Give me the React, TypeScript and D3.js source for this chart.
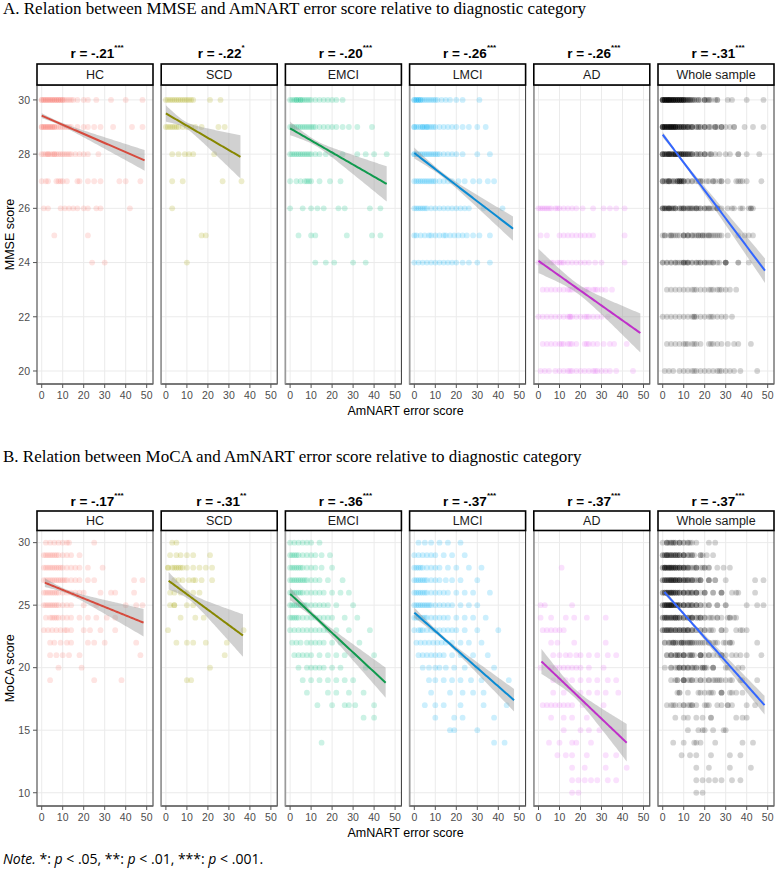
import React from 'react';
import * as d3 from 'd3';

// ---------- categories & labels ----------
const groups = ['HC', 'SCD', 'EMCI', 'LMCI', 'AD', 'Whole sample'];
const pointColors = ['#F8766D', '#A3A500', '#00BF7D', '#00B0F6', '#E76BF3', '#000000'];
const lineColors = ['#D64B3E', '#878700', '#109A4E', '#0B8BD3', '#BF30C9', '#3366FF'];

const mmseR = ['-.21', '-.22', '-.20', '-.26', '-.26', '-.31'];
const mmseStars = ['***', '*', '***', '***', '***', '***'];
const mocaR = ['-.17', '-.31', '-.36', '-.37', '-.37', '-.37'];
const mocaStars = ['***', '**', '***', '***', '***', '***'];

const xTicks = [0, 10, 20, 30, 40, 50];
const mmseTicks = [20, 22, 24, 26, 28, 30];
const mocaTicks = [10, 15, 20, 25, 30];

type Rows = [number, number[]][];

// ---------- MMSE points: [score, AmNART error values] ----------
const mmseHC: Rows = [
  [30, [0, 0, 1, 1, 2, 2, 3, 3, 4, 4, 5, 5, 6, 6, 7, 7, 8, 8, 9, 9, 10, 10, 11, 12, 13, 14, 15, 17, 20, 22, 26, 33, 40, 48]],
  [29, [0, 0, 1, 1, 2, 2, 3, 3, 4, 4, 5, 5, 6, 6, 7, 8, 9, 10, 11, 12, 13, 14, 17, 20, 22, 25, 28, 34, 43, 48]],
  [28, [0, 1, 2, 3, 3, 4, 5, 6, 6, 7, 8, 9, 10, 11, 12, 13, 14, 16, 18, 20, 22, 27]],
  [27, [0, 2, 3, 7, 8, 9, 10, 12, 17, 18, 22, 25, 28, 37, 40, 47]],
  [26, [1, 3, 9, 11, 13, 15, 17, 20, 22, 26, 28, 42]],
  [25, [6, 22]],
  [24, [24, 30]],
];
const mmseSCD: Rows = [
  [30, [0, 1, 2, 3, 4, 5, 6, 7, 8, 9, 10, 11, 12, 13, 21, 26]],
  [29, [0, 1, 2, 3, 4, 5, 6, 8, 10, 12, 14, 17, 25, 28]],
  [28, [3, 6, 9, 11, 13, 23]],
  [27, [3, 8, 27, 36]],
  [26, [3]],
  [25, [17, 19]],
  [24, [10]],
];
const mmseEMCI: Rows = [
  [30, [0, 1, 2, 3, 3, 4, 5, 5, 6, 7, 8, 9, 10, 12, 14, 16, 18, 20, 22, 25]],
  [29, [0, 1, 2, 3, 4, 5, 6, 7, 8, 9, 10, 11, 12, 14, 16, 18, 20, 22, 25, 28, 32, 39]],
  [28, [0, 1, 2, 3, 4, 5, 6, 7, 8, 9, 10, 12, 14, 17, 20, 25, 32, 36, 40, 46]],
  [27, [0, 3, 5, 7, 8, 9, 10, 14, 19, 24]],
  [26, [0, 6, 10, 13, 16, 23, 26, 38, 43]],
  [25, [4, 10, 12, 27, 39, 43]],
  [24, [12, 17, 21, 30, 36]],
];
const mmseLMCI: Rows = [
  [30, [0, 0, 1, 1, 2, 2, 3, 3, 4, 5, 6, 7, 8, 9, 10, 11, 13, 15, 17, 20, 23, 31]],
  [29, [0, 0, 1, 2, 3, 4, 4, 5, 6, 6, 7, 8, 9, 10, 12, 14, 16, 18, 20, 23, 26, 30, 34]],
  [28, [0, 0, 1, 2, 3, 4, 5, 6, 7, 8, 9, 10, 11, 12, 14, 16, 18, 20, 23, 30, 36]],
  [27, [0, 1, 2, 3, 4, 5, 6, 7, 8, 9, 10, 12, 14, 16, 18, 21, 24, 28, 31, 35, 38]],
  [26, [0, 1, 2, 3, 4, 5, 6, 8, 10, 12, 14, 16, 18, 20, 22, 24, 26, 33, 42]],
  [25, [0, 1, 3, 5, 7, 8, 10, 12, 14, 15, 17, 19, 21, 23, 25, 28, 31, 36]],
  [24, [0, 2, 4, 6, 8, 10, 12, 14, 16, 18, 20, 23, 26, 30, 36]],
];
const mmseAD: Rows = [
  [26, [0, 1, 2, 3, 4, 5, 6, 8, 9, 10, 12, 14, 16, 18, 21, 26, 31, 34, 37, 41]],
  [25, [1, 4, 10, 12, 14, 16, 18, 20, 22, 24, 26, 41]],
  [24, [0, 2, 4, 6, 7, 9, 10, 11, 12, 14, 16, 18, 20, 22, 24, 27, 30, 41]],
  [23, [2, 4, 6, 8, 10, 12, 14, 15, 16, 18, 20, 22, 23, 24, 26, 27, 28, 30, 32, 35]],
  [22, [0, 2, 4, 6, 8, 10, 12, 14, 15, 15, 16, 18, 20, 22, 23, 24, 26, 28, 30, 33]],
  [21, [2, 4, 6, 8, 10, 11, 12, 14, 15, 16, 18, 22, 23, 24, 26, 28, 31, 34, 36, 42]],
  [20, [1, 3, 5, 8, 10, 12, 14, 15, 16, 18, 20, 22, 24, 26, 27, 28, 30, 32, 34, 37, 45]],
];

// ---------- MoCA points ----------
const mocaHC: Rows = [
  [30, [2, 4, 6, 8, 10, 12, 13, 25]],
  [29, [1, 2, 3, 4, 5, 6, 7, 8, 10, 12, 14, 18]],
  [28, [1, 2, 3, 4, 5, 6, 7, 8, 9, 10, 12, 14, 16, 18, 22, 29]],
  [27, [1, 2, 3, 4, 5, 6, 7, 8, 9, 10, 11, 12, 14, 16, 18, 22, 25, 44, 48]],
  [26, [1, 2, 3, 4, 5, 6, 7, 8, 10, 12, 14, 16, 18, 20, 28, 33, 35, 44]],
  [25, [1, 2, 3, 4, 5, 6, 7, 8, 10, 12, 14, 20, 26, 40, 45, 48]],
  [24, [2, 4, 5, 6, 7, 8, 10, 12, 14, 18, 22, 26, 31, 35]],
  [23, [1, 3, 5, 7, 9, 11, 12, 14, 20, 23, 28, 35]],
  [22, [4, 6, 9, 12, 14, 22, 25, 30, 45]],
  [21, [4, 7, 10, 13, 18, 47]],
  [20, [8, 19]],
  [19, [4, 25, 38]],
];
const mocaSCD: Rows = [
  [30, [3, 5]],
  [29, [2, 5, 7, 10, 13, 21]],
  [28, [1, 1, 3, 4, 5, 6, 7, 8, 10, 13, 16, 19, 22]],
  [27, [4, 6, 8, 11, 13, 14, 17, 22]],
  [26, [2, 4, 7, 10, 13, 16]],
  [25, [2, 4, 4, 10, 13]],
  [24, [7, 14, 18]],
  [23, [1, 37]],
  [22, [5, 10, 13, 19, 29]],
  [21, [28]],
  [20, [21]],
  [19, [10, 12]],
];
const mocaEMCI: Rows = [
  [30, [0, 2, 4, 6, 8, 10, 14]],
  [29, [0, 1, 2, 3, 4, 6, 8, 10, 12, 15, 19]],
  [28, [0, 1, 2, 3, 4, 5, 6, 8, 10, 12, 15, 20]],
  [27, [0, 1, 2, 3, 4, 5, 6, 7, 8, 10, 12, 14, 18, 25]],
  [26, [0, 1, 2, 3, 4, 5, 6, 8, 10, 12, 14, 16, 20, 24, 28]],
  [25, [0, 1, 2, 3, 4, 5, 6, 7, 8, 10, 12, 14, 16, 18, 22, 30]],
  [24, [0, 1, 2, 3, 4, 6, 8, 10, 12, 14, 16, 18, 20, 26, 32]],
  [23, [0, 2, 4, 6, 8, 10, 12, 14, 16, 18, 22, 28, 38]],
  [22, [1, 3, 5, 8, 10, 12, 14, 16, 20, 24, 33]],
  [21, [2, 4, 6, 8, 10, 14, 18, 22, 26, 30, 40]],
  [20, [4, 8, 10, 12, 14, 16, 20, 24, 36]],
  [19, [6, 10, 14, 18, 22, 26, 30]],
  [18, [8, 18, 22, 28, 35]],
  [17, [13, 20, 26, 28, 31, 40]],
  [16, [35, 40]],
  [14, [15]],
];
const mocaLMCI: Rows = [
  [30, [2, 5, 8, 12, 16, 22]],
  [29, [0, 2, 4, 6, 8, 10, 14, 18, 24]],
  [28, [0, 1, 2, 3, 4, 6, 8, 10, 12, 16, 20, 26, 32]],
  [27, [0, 1, 2, 3, 4, 5, 6, 8, 10, 12, 15, 18, 22, 30]],
  [26, [0, 1, 2, 3, 4, 5, 6, 8, 10, 12, 14, 16, 20, 24, 28, 36]],
  [25, [0, 1, 2, 3, 4, 5, 6, 7, 8, 10, 12, 14, 16, 18, 22, 26, 30]],
  [24, [0, 1, 2, 3, 4, 5, 6, 8, 10, 12, 14, 16, 20, 24, 28, 34]],
  [23, [0, 2, 3, 4, 6, 8, 10, 12, 14, 16, 18, 20, 24, 30, 40]],
  [22, [1, 3, 5, 7, 9, 11, 13, 15, 18, 22, 26, 32]],
  [21, [2, 4, 6, 8, 10, 12, 14, 18, 22, 28, 35]],
  [20, [4, 7, 10, 12, 15, 19, 24, 30, 38]],
  [19, [7, 10, 14, 18, 22, 27, 32, 45]],
  [18, [8, 17, 23, 28, 33]],
  [17, [5, 10, 14, 22, 33, 44]],
  [16, [10, 19, 23, 38]],
  [15, [17, 19, 30]],
  [14, [38, 43]],
];
const mocaAD: Rows = [
  [28, [11]],
  [25, [1, 3, 16]],
  [24, [1, 6, 13, 17, 23, 32]],
  [23, [2, 4, 6, 8, 10, 12]],
  [22, [6, 9, 17, 32]],
  [21, [7, 10, 13, 15, 18, 20, 24, 28, 33, 37]],
  [20, [1, 6, 8, 10, 12, 14, 16, 18, 20, 24, 31]],
  [19, [7, 10, 13, 16, 20, 24, 28, 33, 37]],
  [18, [7, 12, 20, 24, 28, 32, 38]],
  [17, [2, 4, 6, 8, 10, 12, 14, 16, 21, 31]],
  [16, [6, 12, 16, 23]],
  [15, [12, 20, 24, 29]],
  [14, [5, 10, 16, 18, 25]],
  [13, [9, 13, 16, 23, 32, 37]],
  [12, [16, 22, 32, 42]],
  [11, [16, 19, 22, 25, 28, 33, 37]],
  [10, [16, 19]],
];

// ---------- regression fits: [xStart, xEnd, yStart, yEnd, ciStart, ciEnd, ciMin] ----------
const mmseFits: number[][] = [
  [0, 49, 29.42, 27.77, 0.09, 0.38, 0.06],
  [0, 35.5, 29.5, 27.9, 0.3, 0.8, 0.12],
  [0, 46, 28.95, 26.9, 0.25, 0.65, 0.1],
  [0, 47, 28.04, 25.25, 0.2, 0.45, 0.08],
  [0, 48.5, 24.06, 21.4, 0.45, 0.72, 0.18],
  [0, 48.7, 28.72, 23.7, 0.1, 0.45, 0.05],
];
const mocaFits: number[][] = [
  [1.5, 48.5, 26.8, 23.6, 0.35, 1.1, 0.15],
  [1.3, 36.7, 26.95, 22.57, 0.7, 1.7, 0.3],
  [0, 45.5, 25.9, 18.8, 0.5, 1.2, 0.2],
  [0, 47.5, 24.4, 17.4, 0.4, 0.9, 0.15],
  [1.4, 42, 20.5, 14.0, 1.0, 1.5, 0.35],
  [0.8, 48.5, 26.05, 17.0, 0.2, 0.75, 0.1],
];

const mmseData = [mmseHC, mmseSCD, mmseEMCI, mmseLMCI, mmseAD];
const mocaData = [mocaHC, mocaSCD, mocaEMCI, mocaLMCI, mocaAD];

const SANS = '"Liberation Sans", Arial, sans-serif';
const SERIF = '"Liberation Serif", "Times New Roman", serif';

const panelLeft0 = 37;
const panelStep = 124.2;
const panelW = 116;

function flatten(rows: Rows): [number, number][] {
  const out: [number, number][] = [];
  rows.forEach(([y, xs]) => xs.forEach((x) => out.push([x, y])));
  return out;
}

interface FacetProps {
  id: string;
  title: string;
  titleY: number;
  rY: number;
  stripTop: number;
  stripBottom: number;
  panelBottom: number;
  yDomain: [number, number];
  yTicks: number[];
  yLabel: string;
  data: Rows[];
  fits: number[][];
  rVals: string[];
  stars: string[];
}

function Facet(p: FacetProps) {
  const panelTop = p.stripBottom;
  const y = d3.scaleLinear().domain(p.yDomain).range([p.panelBottom, panelTop]);
  const groupPts = p.data.map(flatten);
  const wholePts = ([] as [number, number][]).concat(...groupPts);
  const allPts = [...groupPts, wholePts];
  const labelMid = (panelTop + p.panelBottom) / 2;
  const allLeft = panelLeft0;
  const allRight = panelLeft0 + 5 * panelStep + panelW;

  return (
    <g>
      <text x={3} y={p.titleY} fontFamily={SERIF} fontSize={17} fill="#000">
        {p.title}
      </text>
      {groups.map((g, i) => {
        const left = panelLeft0 + i * panelStep;
        const x = d3.scaleLinear().domain([-2.24, 53]).range([left, left + panelW]);
        const [x0, x1, y0, y1, cL, cR, cM] = p.fits[i];
        const a = Math.sqrt(Math.max(cL * cL - cM * cM, 1e-6));
        const b = Math.sqrt(Math.max(cR * cR - cM * cM, 1e-6));
        const k = (a + b) / (x1 - x0);
        const xc = x0 + a / k;
        const lineY = (v: number) => y0 + ((y1 - y0) * (v - x0)) / (x1 - x0);
        const half = (v: number) => Math.sqrt(cM * cM + k * k * (v - xc) * (v - xc));
        const xs = d3.range(0, 61).map((t) => x0 + ((x1 - x0) * t) / 60);
        const area = d3
          .area<number>()
          .x((v) => x(v))
          .y0((v) => y(lineY(v) - half(v)))
          .y1((v) => y(lineY(v) + half(v)));
        const line = d3
          .line<number>()
          .x((v) => x(v))
          .y((v) => y(lineY(v)));
        const clipId = `${p.id}-clip-${i}`;
        const alpha = i === 5 ? 0.17 : 0.2;
        return (
          <g key={g}>
            <defs>
              <clipPath id={clipId}>
                <rect x={left} y={panelTop} width={panelW} height={p.panelBottom - panelTop} />
              </clipPath>
            </defs>
            <rect x={left} y={panelTop} width={panelW} height={p.panelBottom - panelTop} fill="#fff" />
            {xTicks.map((t) => (
              <line key={'gx' + t} x1={x(t)} x2={x(t)} y1={panelTop} y2={p.panelBottom} stroke="#ebebeb" strokeWidth={1} />
            ))}
            {p.yTicks.map((t) => (
              <line key={'gy' + t} x1={left} x2={left + panelW} y1={y(t)} y2={y(t)} stroke="#ebebeb" strokeWidth={1} />
            ))}
            <g clipPath={`url(#${clipId})`}>
              {allPts[i].map(([px, py], j) => (
                <circle key={j} cx={x(px)} cy={y(py)} r={2.9} fill={pointColors[i]} fillOpacity={alpha} />
              ))}
              <path d={area(xs) || ''} fill="#999999" fillOpacity={0.45} />
              <path d={line(xs) || ''} fill="none" stroke={lineColors[i]} strokeWidth={2} />
            </g>
            <rect x={left} y={panelTop} width={panelW} height={p.panelBottom - panelTop} fill="none" stroke="#333" strokeWidth={1} />
            <line x1={left} x2={left} y1={panelTop} y2={p.panelBottom + 0.5} stroke="#9a9a9a" strokeWidth={1.6} />
            <line x1={left} x2={left + panelW} y1={p.panelBottom} y2={p.panelBottom} stroke="#6e6e6e" strokeWidth={1.6} />
            {/* strip */}
            <rect x={left} y={p.stripTop} width={panelW} height={p.stripBottom - p.stripTop} fill="#fff" stroke="#000" strokeWidth={1.6} />
            <text x={left + panelW / 2} y={(p.stripTop + p.stripBottom) / 2 + 4.5} textAnchor="middle" fontFamily={SANS} fontSize={12.5} fill="#1a1a1a">
              {g}
            </text>
            {/* r label */}
            <text x={left + panelW / 2 + 2} y={p.rY} textAnchor="middle" fontFamily={SANS} fontSize={13.5} fontWeight="bold" fill="#000">
              {'r = ' + p.rVals[i]}
              <tspan fontSize={8} dy={-8}>{p.stars[i]}</tspan>
            </text>
            {/* x axis ticks */}
            {xTicks.map((t) => (
              <g key={'tx' + t}>
                <line x1={x(t)} x2={x(t)} y1={p.panelBottom} y2={p.panelBottom + 4} stroke="#555" strokeWidth={1} />
                <text x={x(t)} y={p.panelBottom + 15} textAnchor="middle" fontFamily={SANS} fontSize={10.5} fill="#4d4d4d">
                  {t}
                </text>
              </g>
            ))}
            {i === 0 &&
              p.yTicks.map((t) => (
                <g key={'ty' + t}>
                  <line x1={left - 4} x2={left} y1={y(t)} y2={y(t)} stroke="#555" strokeWidth={1} />
                  <text x={left - 7} y={y(t) + 3.8} textAnchor="end" fontFamily={SANS} fontSize={10.5} fill="#4d4d4d">
                    {t}
                  </text>
                </g>
              ))}
          </g>
        );
      })}
      <text
        x={(allLeft + allRight) / 2}
        y={p.panelBottom + 31}
        textAnchor="middle"
        fontFamily={SANS}
        fontSize={12.5}
        fill="#000"
      >
        AmNART error score
      </text>
      <text
        transform={`translate(14,${labelMid}) rotate(-90)`}
        textAnchor="middle"
        fontFamily={SANS}
        fontSize={12.5}
        fill="#000"
      >
        {p.yLabel}
      </text>
    </g>
  );
}

export default function App() {
  return (
    <svg width={778} height={873} style={{ position: 'absolute', left: 0, top: 0, background: '#fff' }}>
      <rect x={0} y={0} width={778} height={873} fill="#fff" />
      <Facet
        id="a"
        title="A. Relation between MMSE and AmNART error score relative to diagnostic category"
        titleY={14}
        rY={58}
        stripTop={64}
        stripBottom={85}
        panelBottom={384}
        yDomain={[19.52, 30.55]}
        yTicks={mmseTicks}
        yLabel="MMSE score"
        data={mmseData}
        fits={mmseFits}
        rVals={mmseR}
        stars={mmseStars}
      />
      <Facet
        id="b"
        title="B. Relation between MoCA and AmNART error score relative to diagnostic category"
        titleY={462}
        rY={506}
        stripTop={511}
        stripBottom={530.5}
        panelBottom={806}
        yDomain={[8.94, 30.97]}
        yTicks={mocaTicks}
        yLabel="MoCA score"
        data={mocaData}
        fits={mocaFits}
        rVals={mocaR}
        stars={mocaStars}
      />
      <text x={3} y={864} fontFamily='"Open Sans", Lato, sans-serif' fontSize={14} fill="#000">
        <tspan fontStyle="italic">Note.</tspan>
        <tspan> *: </tspan>
        <tspan fontStyle="italic">p</tspan>
        <tspan> &lt; .05, **: </tspan>
        <tspan fontStyle="italic">p</tspan>
        <tspan> &lt; .01, ***: </tspan>
        <tspan fontStyle="italic">p</tspan>
        <tspan> &lt; .001.</tspan>
      </text>
    </svg>
  );
}
